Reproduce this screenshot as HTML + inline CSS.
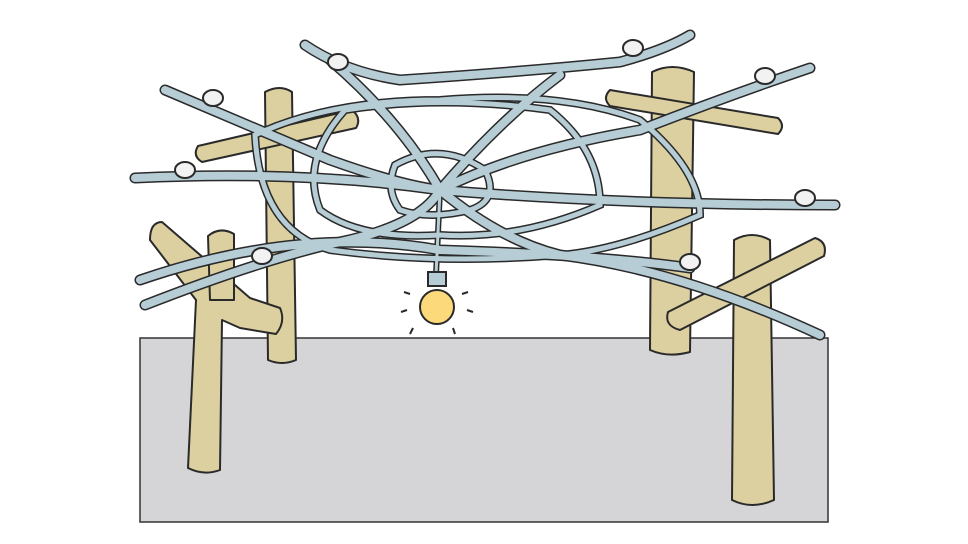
<!DOCTYPE html>
<html><head><style>body{margin:0;background:#fff}svg{display:block}</style></head><body>
<svg width="968" height="544" viewBox="0 0 968 544" xmlns="http://www.w3.org/2000/svg">
<rect x="140" y="338" width="688" height="184" fill="#d5d5d7" stroke="#333" stroke-width="1.5"/>
<g stroke="#2a2a2a" stroke-width="2" fill="#dccfa0" stroke-linejoin="round">
<!-- left back pole -->
<path d="M265,92 Q280,84 292,92 L296,360 Q282,366 268,360 Z"/>
<path d="M198,146 L352,110 Q362,118 356,128 L202,162 Q192,156 198,146 Z"/>
<!-- right back pole -->
<path d="M652,72 Q672,62 694,72 L690,352 Q668,358 650,350 Z"/>
<path d="M610,90 L778,118 Q786,126 778,134 L610,106 Q602,98 610,90 Z"/>
<!-- left front pole -->
<path d="M162,222 L250,298 L280,308 Q286,322 276,334 L240,328 L222,320 L220,470 Q204,476 188,468 L196,300 L150,240 Q150,222 162,222 Z"/>
<path d="M208,236 Q220,226 234,234 L234,300 L210,300 Z"/>
<!-- right front pole -->
<path d="M734,240 Q752,230 770,240 L774,500 Q752,510 732,500 Z"/>
<path d="M668,312 L815,238 Q828,242 824,256 L680,330 Q664,326 668,312 Z"/>
</g>
<defs>
<path id="w1" d="M305,45 Q345,72 400,80 Q520,72 620,62 Q665,50 690,35"/>
<path id="w2" d="M165,90 Q260,130 330,160 Q400,185 440,190 Q520,150 640,130 Q730,95 810,68"/>
<path id="w3" d="M135,178 Q300,170 440,190 Q620,205 835,205"/>
<path id="w4" d="M145,305 Q260,260 340,242 Q420,225 440,190 Q500,240 560,255 Q680,270 820,335"/>
<path id="w5" d="M330,60 Q400,120 440,190 Q500,120 560,75"/>
<path id="w6" d="M440,190 L436,275"/>
<path id="w7" d="M395,165 Q440,140 485,170 Q500,200 470,210 Q430,220 400,210 Q385,190 395,165 Z"/>
<path id="w8" d="M345,110 Q440,95 550,110 Q600,150 600,205 Q520,240 440,235 Q360,240 320,210 Q300,160 345,110 Z"/>
<path id="w9" d="M255,135 Q330,100 440,100 Q560,90 640,120 Q700,170 700,215 Q620,250 560,255 Q440,265 330,250 Q260,230 255,135 Z"/>
<path id="w10" d="M140,280 Q300,225 440,250 Q600,255 690,268"/>
</defs>
<g fill="none" stroke-linecap="round">
<g stroke="#2a2a2a" stroke-width="11">
<use href="#w1"/><use href="#w2"/><use href="#w3"/><use href="#w4"/><use href="#w5"/><use href="#w6" stroke-width="6"/><use href="#w7" stroke-width="8"/><use href="#w8" stroke-width="8"/><use href="#w9" stroke-width="8"/><use href="#w10"/>
</g>
<g stroke="#b6cdd5" stroke-width="8">
<use href="#w1"/><use href="#w2"/><use href="#w3"/><use href="#w4"/><use href="#w5"/><use href="#w6" stroke-width="3"/><use href="#w7" stroke-width="5"/><use href="#w8" stroke-width="5"/><use href="#w9" stroke-width="5"/><use href="#w10"/>
</g>
</g>
<g fill="#f2f2f2" stroke="#2a2a2a" stroke-width="2">
<ellipse cx="213" cy="98" rx="10" ry="8"/><ellipse cx="185" cy="170" rx="10" ry="8"/><ellipse cx="262" cy="256" rx="10" ry="8"/>
<ellipse cx="338" cy="62" rx="10" ry="8"/><ellipse cx="633" cy="48" rx="10" ry="8"/><ellipse cx="765" cy="76" rx="10" ry="8"/>
<ellipse cx="805" cy="198" rx="10" ry="8"/><ellipse cx="690" cy="262" rx="10" ry="8"/>
</g>
<g stroke="#2a2a2a" stroke-width="2">
<path d="M428,272 L446,272 L446,286 L428,286 Z" fill="#b6cdd5"/>
<circle cx="437" cy="307" r="17" fill="#fcd97a"/>
<g fill="none"><path d="M404,292 l6,2"/><path d="M401,312 l6,-2"/><path d="M410,334 l3,-6"/><path d="M468,292 l-6,2"/><path d="M473,312 l-6,-2"/><path d="M455,334 l-2,-6"/></g>
</g>
</svg>
</body></html>
